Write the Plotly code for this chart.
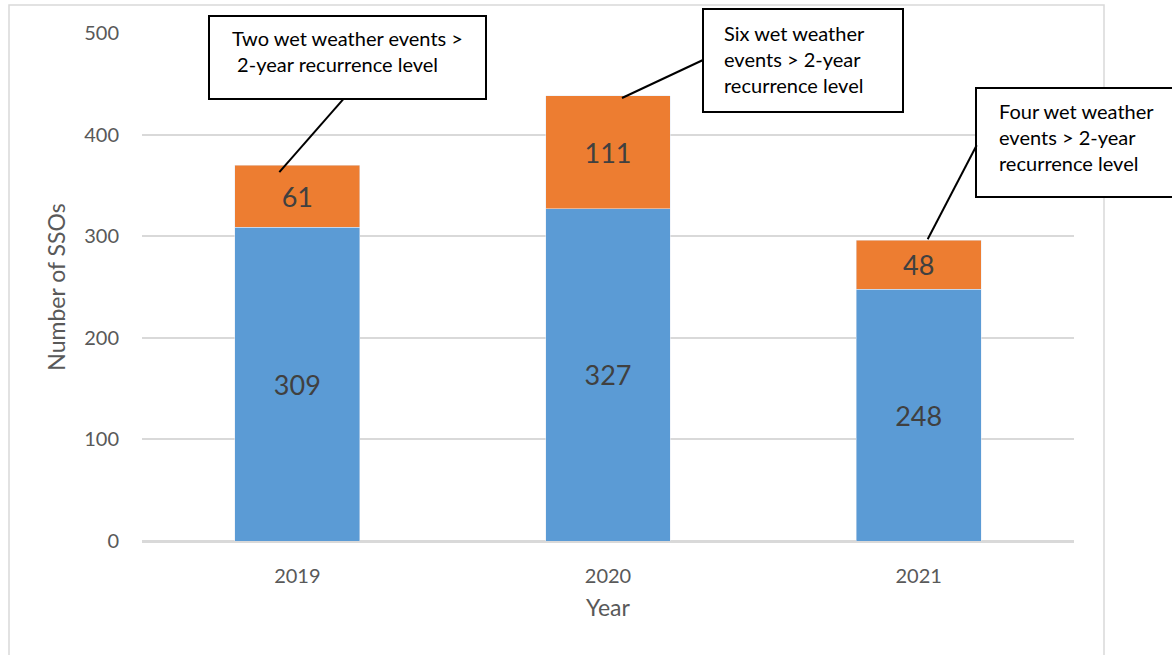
import plotly.graph_objects as go

# data
years = ["2019", "2020", "2021"]
base_ssos = [309, 327, 248]
wet_ssos = [61, 111, 48]
totals = [b + w for b, w in zip(base_ssos, wet_ssos)]
notes = [
    "Two wet weather events ><br> 2-year recurrence level",
    "Six wet weather<br>events > 2-year<br>recurrence level",
    "Four wet weather<br>events > 2-year<br>recurrence level",
]

W, H = 1172, 655
L, R, T, B = 142, 98, 33, 114
PW, PH = W - L - R, H - T - B


def px(x):
    return (x - L) / PW


def py(y):
    return (H - B - y) / PH


FONT = "Lato, Open Sans, sans-serif"

fig = go.Figure()
fig.add_trace(go.Bar(
    x=years, y=base_ssos, name="SSOs", marker_color="#5B9BD5",
    text=base_ssos, textposition="inside", insidetextanchor="middle",
    textfont=dict(size=27, color="#404040", family=FONT), textangle=0,
))
fig.add_trace(go.Bar(
    x=years, y=wet_ssos, name="Wet weather SSOs", marker_color="#ED7D31",
    text=wet_ssos, textposition="inside", insidetextanchor="middle",
    textfont=dict(size=27, color="#404040", family=FONT), textangle=0,
))

# callout boxes (left, top, right, bottom in pixels) and text start
boxes = [(209, 16, 486, 99), (703, 9, 903, 112), (976, 88, 1178, 197)]
text_pos = [(230, 24), (722, 19), (997, 97)]
# leader lines: pixel offsets from top of each stacked bar
leaders = [(-18, -7, 46, 66), (14, -2, 95, 36), (9, 1, 58, 95)]

shapes = [dict(type="rect", xref="paper", yref="paper",
               x0=px(9), x1=px(1104), y0=py(700), y1=py(5),
               line=dict(color="#D9D9D9", width=1.5), layer="below")]
for (x0, y0, x1, y1) in boxes:
    shapes.append(dict(type="rect", xref="paper", yref="paper",
                       x0=px(x0), x1=px(x1), y0=py(y1), y1=py(y0),
                       fillcolor="white", line=dict(color="black", width=2),
                       layer="above"))
for i, (tot, (a, b, c, d)) in enumerate(zip(totals, leaders)):
    shapes.append(dict(type="line", xref="x", yref="y",
                       xsizemode="pixel", ysizemode="pixel",
                       xanchor=i, yanchor=tot,
                       x0=a, y0=b, x1=c, y1=d,
                       line=dict(color="black", width=2), layer="above"))

annotations = []
for txt, (tx, ty) in zip(notes, text_pos):
    annotations.append(dict(text=txt, xref="paper", yref="paper",
                            x=px(tx), y=py(ty), xanchor="left", yanchor="top",
                            align="left", showarrow=False,
                            font=dict(size=20, color="black", family=FONT)))

fig.update_layout(
    width=W, height=H,
    margin=dict(l=L, r=R, t=T, b=B),
    barmode="stack", bargap=0.598,
    showlegend=False,
    plot_bgcolor="white", paper_bgcolor="white",
    font=dict(family=FONT, color="#595959"),
    shapes=shapes, annotations=annotations,
)
fig.update_xaxes(
    type="category", range=[-0.5, 2.5],
    title=dict(text="Year", font=dict(size=23, color="#595959"), standoff=14),
    tickfont=dict(size=20, color="#595959"),
    showline=True, linecolor="#D9D9D9", linewidth=1.5,
    ticks="", ticklabelstandoff=16,
)
fig.update_yaxes(
    title=dict(text="Number of SSOs", font=dict(size=23, color="#595959"), standoff=12),
    tickfont=dict(size=20, color="#595959"),
    range=[0, 500], dtick=100,
    showgrid=True, gridcolor="#D9D9D9", gridwidth=1.5,
    zeroline=True, zerolinecolor="#D9D9D9", zerolinewidth=1.5,
    ticks="", ticklabelstandoff=22,
)

fig.write_html("out.html", config={"displayModeBar": False},
               post_script="document.body.style.margin='0';")
